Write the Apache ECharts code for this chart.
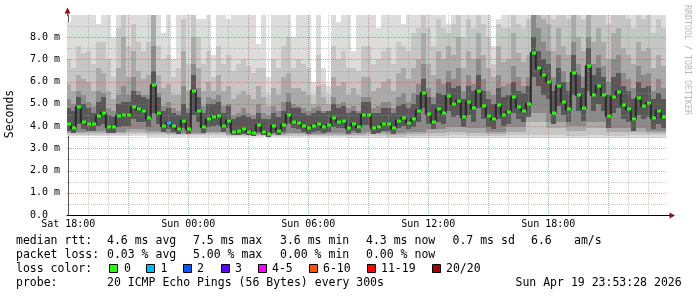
<!DOCTYPE html>
<html><head><meta charset="utf-8">
<script src="https://cdn.jsdelivr.net/npm/echarts@6/dist/echarts.min.js"></script>
<style>html,body{margin:0;padding:0;background:#fff}#c{width:697px;height:297px}</style>
</head><body><div id="c"></div>
<script>
// ---------- DATA ----------
const STEP = 0.25; // hours per sample column (15 min), hour 0 = Sat 18:00
const startHour = 0;
const median = [4.1,3.9,4.85,4.2, 4.1,4.1,4.45,4.6, 3.95,3.95,4.45,4.5, 4.5,4.85,4.75,4.7, 4.35,5.85,4.6,4.0, 4.15,4.0,3.85,4.25, 3.85,5.6,4.7,3.95, 4.3,4.4,4.45,4.0, 4.25,3.75,3.8,3.85, 3.75,3.7,4.05,3.75, 3.65,4.0,3.8,4.05, 4.5,4.2,4.15,4.0, 3.9,4.0,4.1,3.95, 4.05,4.35,4.2,4.25, 3.9,4.1,3.95,4.5, 4.5,3.9,3.95,4.1, 4.1,3.9,4.25,4.35, 4.15,4.3,4.7,5.5, 4.55,4.2,4.75,4.6, 5.35,5.0,5.15,4.4, 5.1,4.8,5.6,4.9, 4.45,4.3,4.95,4.5, 4.65,5.3,4.85,4.7, 5.0,7.3,6.6,6.3, 6.0,4.6,5.8,5.1, 4.75,6.4,5.4,4.8, 6.7,5.4,5.8,5.4, 4.45,5.3,5.55,4.95, 4.75,4.3,5.25,4.9, 5.05,4.35,4.7,4.4];
const lossCount = [
  0,0,0,0,0,0,0,0,0,0,0,0,0,0,0,0,0,0,0,0,
  1,0,0,0,0,0,0,0,0,0,0,0,0,0,0,0,0,0,0,0,
  0,0,0,0,0,0,0,0,0,0,0,0,0,0,0,0,0,0,0,0,
  0,0,0,0,0,0,0,0,0,0,0,0,0,0,0,0,0,0,0,0,
  0,0,0,0,0,0,0,0,0,0,0,0,0,0,0,0,0,0,0,0,
  0,0,0,0,0,0,0,0,0,0,0,0,0,0,0,0,0,0,0,0];
// smoke layers (ms): tops per column, lightest to darkest
const smokeTop1 = [8.7,9,9,9, 9,9,8.6,9, 9,8.0,9,9, 9,9,9,9, 9,9,9,8.2, 9,7.0,9,9, 9,9,8.8,8.8, 9,7.2,9,9, 8.8,9,9,9, 9,9,7.7,9, 6.2,9,9,9, 9,8.0,9,9, 9,6.0,9,6.6, 5.8,9,8.7,9, 9,7.4,9,9, 9,9,8.4,9, 9,9,9,8.6, 9,9,9,9, 9,9,9,9, 8.6,9,9,9, 9,9,9,9, 9,7.6,8.8,9, 9,9,9,9, 9,9,9,9, 9,9,9,9, 9,9,9,9, 9,9,9,9, 9,9,9,9, 9,9,9,9, 9,9,9,9];
const smokeTop2 = [7.0,6.6,7.6,7.3, 7.4,6.8,7.8,7.8, 7.0,6.2,8.4,9.0, 7.6,8.6,7.8,7.4, 7.8,9.0,7.6,7.0, 7.2,6.2,6.6,8.8, 6.8,9.0,8.0,6.8, 7.4,6.2,7.6,6.8, 7.2,6.5,6.8,7.0, 6.7,6.4,6.6,6.6, 5.4,7.0,6.6,7.6, 8.0,6.6,7.0,6.8, 6.6,5.4,7.2,5.9, 5.4,7.6,7.0,7.4, 6.6,6.6,6.5,7.6, 7.6,6.8,7.0,7.4, 7.5,6.8,7.8,7.6, 7.4,8.2,8.4,9.0, 8.4,7.6,8.8,8.4, 8.2,8.6,9.0,8.0, 8.8,8.4,9.0,8.6, 8.0,6.8,8.6,8.4, 8.4,9.0,8.6,8.4, 8.8,9,9,9, 9,8.8,9,9, 8.8,9,9,8.8, 9,9,9,9, 8.6,9,9,9, 8.8,8.4,9,8.8, 9,8.2,8.8,8.4];
const smokeTop3 = [5.9,5.6,6.3,6.1, 6.0,5.6,6.6,6.4, 5.6,5.2,6.6,8.0, 6.2,7.4,6.5,6.1, 6.3,9.0,6.3,5.7, 5.9,5.4,5.4,7.4, 5.6,8.0,6.6,5.6, 6.0,5.6,6.3,5.6, 5.8,5.2,5.4,5.6, 5.4,5.2,5.8,5.3, 4.9,5.7,5.4,6.2, 6.4,5.7,5.7,5.6, 5.4,5.0,5.8,5.3, 5.0,6.2,5.8,6.0, 5.4,5.7,5.4,6.2, 6.2,5.6,5.7,6.0, 6.1,5.6,6.4,6.6, 6.1,6.6,7.0,8.2, 6.8,6.3,7.4,7.0, 7.6,7.2,8.0,6.6, 7.4,7.0,8.2,7.2, 6.6,6.2,7.6,6.9, 7.0,8.2,7.3,6.9, 7.2,9.0,9.0,8.8, 8.6,7.4,8.4,7.6, 7.2,9.0,8.0,7.4, 9.0,7.8,8.4,7.8, 7.0,8.2,8.4,7.5, 7.2,6.8,7.8,7.4, 7.5,6.6,7.2,6.7];
const smokeTop4 = [5.2,5.0,5.6,5.4, 5.1,4.9,5.6,5.5, 4.8,4.7,5.4,5.8, 5.4,6.2,5.6,5.4, 5.4,7.6,5.5,4.9, 5.1,4.8,4.7,5.8, 4.8,6.8,5.7,4.9, 5.3,5.2,5.4,4.9, 5.0,4.5,4.6,4.8, 4.6,4.5,5.0,4.6, 4.5,4.9,4.7,5.1, 5.5,5.0,4.9,4.8, 4.7,4.8,4.9,4.7, 4.7,5.3,5.0,5.1, 4.8,4.9,4.7,5.3, 5.3,4.8,4.9,5.1, 5.1,4.8,5.3,5.5, 5.1,5.5,5.9,6.8, 5.7,5.3,6.1,5.9, 6.5,6.1,6.6,5.6, 6.3,5.9,7.0,6.1, 5.6,5.4,6.3,5.8, 5.9,6.7,6.2,5.8, 6.2,9.0,8.4,7.8, 7.4,6.2,7.2,6.5, 6.0,7.8,6.8,6.2, 8.0,6.8,7.2,6.7, 6.0,7.0,7.2,6.4, 6.1,5.7,6.7,6.3, 6.4,5.6,6.1,5.7];
const smokeTop5 = [4.8,4.7,5.3,5.0, 4.8,4.6,5.1,5.3, 4.5,4.4,5.0,5.1, 5.1,5.6,5.4,5.3, 5.2,6.5,5.3,4.7, 4.8,4.6,4.5,5.0, 4.6,6.3,5.3,4.6, 5.0,5.0,5.1,4.6, 4.9,4.3,4.4,4.5, 4.4,4.3,4.6,4.3, 4.3,4.6,4.4,4.7, 5.1,4.8,4.8,4.6, 4.5,4.6,4.7,4.6, 4.7,5.0,4.8,4.9, 4.6,4.7,4.6,5.1, 5.1,4.6,4.6,4.8, 4.8,4.6,4.9,5.0, 4.8,5.0,5.4,6.1, 5.3,5.0,5.5,5.4, 6.0,5.7,5.8,5.2, 5.8,5.6,6.3,5.6, 5.2,5.0,5.7,5.3, 5.4,6.0,5.6,5.5, 5.8,8.0,7.4,7.0, 6.8,5.6,6.6,6.0, 5.6,7.2,6.3,5.7, 7.5,6.3,6.6,6.2, 5.4,6.2,6.4,5.8, 5.6,5.2,6.0,5.7, 5.8,5.2,5.5,5.2];
const smokeBot5 = [3.8,3.7,4.1,3.85, 3.8,3.8,4.0,4.1, 3.7,3.7,3.95,4.0, 4.0,4.3,4.2,4.2, 3.95,4.6,4.1,3.75, 3.85,3.75,3.65,3.9, 3.65,4.5,4.2,3.7, 3.95,4.0,4.05,3.75, 3.9,3.6,3.6,3.65, 3.6,3.55,3.75,3.6, 3.5,3.7,3.6,3.75, 4.1,3.9,3.85,3.75, 3.65,3.75,3.8,3.7, 3.75,3.95,3.9,3.9, 3.65,3.8,3.7,4.05, 4.05,3.65,3.7,3.8, 3.8,3.65,3.9,4.0, 3.85,3.95,4.2,4.8, 4.1,3.85,4.2,4.1, 4.7,4.4,4.5,3.95, 4.5,4.2,4.8,4.3, 3.95,3.85,4.3,4.0, 4.1,4.6,4.3,4.2, 4.4,6.2,5.8,5.4, 5.2,4.1,4.9,4.5, 4.2,5.4,4.7,4.25, 5.6,4.7,5.0,4.7, 3.9,4.6,4.8,4.3, 4.2,3.8,4.5,4.3, 4.4,3.85,4.1,3.9];
// smoke layer bottoms, one value per hour
const smokeBot1 = [3.55,3.55,3.55,3.55,3.5,3.5,3.5,3.5,3.5,3.5,3.5,3.5,3.5,3.5,3.45,3.45,3.45,3.45,3.45,3.45,3.45,3.45,3.45,3.45,3.45,3.45,3.45,3.45,3.45,3.45];
const smokeBot2 = [3.6,3.6,3.6,3.65,3.6,3.6,3.6,3.6,3.55,3.55,3.55,3.55,3.55,3.55,3.55,3.55,3.5,3.55,3.55,3.6,3.55,3.55,3.6,3.6,3.6,3.55,3.6,3.55,3.6,3.6];
const smokeBot3 = [3.7,3.7,3.7,3.75,3.7,3.65,3.65,3.7,3.6,3.6,3.6,3.65,3.6,3.6,3.6,3.65,3.6,3.65,3.7,3.75,3.7,3.65,3.75,4.2,3.9,3.8,3.9,3.75,3.75,3.7];
const smokeBot4 = [3.75,3.8,3.75,3.85,3.8,3.7,3.7,3.75,3.65,3.65,3.65,3.7,3.65,3.7,3.7,3.75,3.7,3.75,3.85,3.95,3.9,3.75,3.95,4.6,4.2,4.0,4.2,3.9,3.9,3.8];
const xLabelHours = [0, 6, 12, 18, 24];
const xLabelNames = ['Sat 18:00', 'Sun 00:00', 'Sun 06:00', 'Sun 12:00', 'Sun 18:00'];
const rttStats = ['4.6 ms avg', '7.5 ms max', '3.6 ms min', '4.3 ms now', '0.7 ms sd', '6.6', 'am/s'];
const lossStats = ['0.03 % avg', '5.00 % max', '0.00 % min', '0.00 % now'];
const lossLegend = ['0', '1', '2', '3', '4-5', '6-10', '11-19', '20/20'];
const probeText = '20 ICMP Echo Pings (56 Bytes) every 300s';
const stampText = 'Sun Apr 19 23:53:28 2026';

// ---------- STYLE / LAYOUT ----------
const lossColors = ['#26ff00', '#00b8ff', '#0059ff', '#5e00ff', '#ff00ff', '#ff5500', '#ff0000', '#a00000'];
const smokeColors = ['#dcdcdc', '#c6c6c6', '#aaaaaa', '#8a8a8a', '#585858'];
const MONO = 'DejaVu Sans Mono';
const hours = median.map((_, i) => startHour + i * STEP);
const hourly = arr => hours.map((t, i) => arr[Math.floor(i / 4)]);

const chart = echarts.init(document.getElementById('c'), null, {renderer: 'canvas'});

function clipRect(params, a, b) {
  const cs = params.coordSys;
  const x = Math.round(a[0]), x2 = Math.round(b[0]);
  const y = Math.round(a[1]), y2 = Math.round(b[1]);
  return echarts.graphic.clipRectByRect({x: x, y: y, width: x2 - x, height: y2 - y},
    {x: cs.x, y: cs.y, width: cs.width, height: cs.height});
}
function band(lo, hi, color, z) {
  return {
    type: 'custom', silent: true, z: z, animation: false,
    data: hours.map((t, i) => [t, lo[i], hi[i]]),
    encode: {x: 0, y: [1, 2]},
    renderItem: (params, api) => {
      const a = api.coord([api.value(0) - STEP / 2, api.value(2)]);
      const b = api.coord([api.value(0) + STEP / 2, api.value(1)]);
      const r = clipRect(params, a, b);
      return r ? {type: 'rect', shape: r, style: {fill: color}} : null;
    }
  };
}

const vGrid = [];
for (let h = 1; h < 30; h++) vGrid.push([h, 0, h % 3 === 0 ? 1 : 0]);
const hGrid = [];
for (let v = 0.5; v < 9; v += 0.5) hGrid.push([0, v, Number.isInteger(v) ? 1 : 0]);
const RED = 'rgba(225,70,70,0.55)', GRAY = 'rgba(150,150,150,0.5)';

const g = [];
g.push({type: 'line', shape: {x1: 67.5, y1: 16, x2: 67.5, y2: 10}, style: {stroke: '#555', lineWidth: 1}, z: 20});
g.push({type: 'polygon', shape: {points: [[64.5, 13.5], [70.5, 13.5], [67.5, 7.5]]}, style: {fill: '#8b1010'}, z: 21});
g.push({type: 'line', shape: {x1: 666, y1: 215.5, x2: 671, y2: 215.5}, style: {stroke: '#000', lineWidth: 1}, z: 20});
g.push({type: 'polygon', shape: {points: [[669.5, 212.5], [669.5, 218.5], [675, 215.5]]}, style: {fill: '#8b1010'}, z: 21});
function txt(s, x, y, size, fill, rot, align) {
  return {type: 'text', x: x, y: y, rotation: rot || 0, z: 30,
    style: {text: s, fontFamily: MONO, fontSize: size, fill: fill || '#000',
      align: align || 'left', verticalAlign: 'middle', textAlign: align || 'left', textVerticalAlign: 'middle'}};
}
g.push(txt('Seconds', 10, 114, 11.5, '#000', Math.PI / 2, 'center'));
g.push(txt('RRDTOOL / TOBI OETIKER', 687.5, 60, 8.3, '#b8b8b8', -Math.PI / 2, 'center'));
const FS = 11.5;
const rowY = [241, 255, 269, 283];
g.push(txt('median rtt:', 16, rowY[0], FS));
const rttX = [107, 193, 280, 366, 452.5, 531, 574];
rttStats.forEach((s, i) => g.push(txt(s, rttX[i], rowY[0], FS)));
g.push(txt('packet loss:', 16, rowY[1], FS));
const lossX = [107, 193, 280, 366];
lossStats.forEach((s, i) => g.push(txt(s, lossX[i], rowY[1], FS)));
g.push(txt('loss color:', 16, rowY[2], FS));
const boxX = [109, 146, 183, 221, 258, 309, 367, 432];
const boxLabelX = [124, 160.5, 197, 235, 272, 323, 381, 446];
lossLegend.forEach((s, i) => {
  g.push({type: 'rect', z: 30, shape: {x: boxX[i] + 0.5, y: 264.5, width: 8, height: 8}, style: {fill: lossColors[i], stroke: '#000', lineWidth: 1}});
  g.push(txt(s, boxLabelX[i], rowY[2], FS));
});
g.push(txt('probe:', 16, rowY[3], FS));
g.push(txt(probeText, 107, rowY[3], FS));
g.push(txt(stampText, 515.5, rowY[3], FS));

const lossColorIdx = n => n === 0 ? 0 : n === 1 ? 1 : n === 2 ? 2 : n === 3 ? 3 : n <= 5 ? 4 : n <= 10 ? 5 : n <= 19 ? 6 : 7;

chart.setOption({
  animation: false,
  backgroundColor: '#fff',
  grid: {left: 67, right: 30, top: 15, bottom: 82, containLabel: false},
  xAxis: {
    type: 'value', min: -0.065, max: 29.935,
    axisLine: {show: true, onZero: false, lineStyle: {color: '#000', width: 1}},
    axisTick: {show: false}, splitLine: {show: false},
    axisLabel: {customValues: xLabelHours, formatter: v => xLabelNames[xLabelHours.indexOf(v)] || '',
      fontFamily: MONO, fontSize: 10, color: '#000', margin: 4}
  },
  yAxis: {
    type: 'value', min: 0, max: 9, interval: 1,
    axisLine: {show: true, lineStyle: {color: '#555', width: 1}},
    axisTick: {show: false}, splitLine: {show: false},
    axisLabel: {formatter: v => v >= 9 ? '' : (v === 0 ? '0.0  ' : v.toFixed(1) + ' m'),
      fontFamily: MONO, fontSize: 10, color: '#000', margin: 7}
  },
  graphic: g,
  series: [
    band(hourly(smokeBot1), smokeTop1, smokeColors[0], 2),
    band(hourly(smokeBot2), smokeTop2, smokeColors[1], 3),
    band(hourly(smokeBot3), smokeTop3, smokeColors[2], 4),
    band(hourly(smokeBot4), smokeTop4, smokeColors[3], 5),
    band(smokeBot5, smokeTop5, smokeColors[4], 6),
    {
      type: 'custom', silent: true, z: 7, data: vGrid, encode: {x: 0, y: 1},
      renderItem: (params, api) => {
        const p = api.coord([api.value(0), 0]);
        const cs = params.coordSys;
        const x = Math.round(p[0]) + 0.5;
        return {type: 'line', shape: {x1: x, y1: cs.y, x2: x, y2: cs.y + cs.height},
          style: {stroke: api.value(2) ? RED : GRAY, lineWidth: 1, lineDash: [1, 1]}};
      }
    },
    {
      type: 'custom', silent: true, z: 7, data: hGrid, encode: {x: 0, y: 1},
      renderItem: (params, api) => {
        const p = api.coord([0, api.value(1)]);
        const cs = params.coordSys;
        const y = Math.round(p[1]) + 0.5;
        return {type: 'line', shape: {x1: cs.x, y1: y, x2: cs.x + cs.width, y2: y},
          style: {stroke: api.value(2) ? RED : GRAY, lineWidth: 1, lineDash: [1, 1]}};
      }
    },
    {
      type: 'line', z: 8, step: 'middle', symbol: 'none', silent: true,
      data: hours.map((t, i) => [t, median[i]]),
      lineStyle: {color: '#2a2a2a', width: 2}
    },
    {
      type: 'custom', silent: true, z: 9,
      data: hours.map((t, i) => [t, median[i], lossCount[i]]),
      encode: {x: 0, y: 1},
      renderItem: (params, api) => {
        const a = api.coord([api.value(0) - STEP / 2, api.value(1)]);
        const b = api.coord([api.value(0) + STEP / 2, api.value(1)]);
        const x = Math.round(a[0]), w = Math.round(b[0]) - x;
        return {type: 'rect', shape: {x: x + 1, y: Math.round(a[1]) - 1.5, width: w - 1, height: 3},
          style: {fill: lossColors[lossColorIdx(api.value(2))]}};
      }
    }
  ]
});
</script>
</body></html>
